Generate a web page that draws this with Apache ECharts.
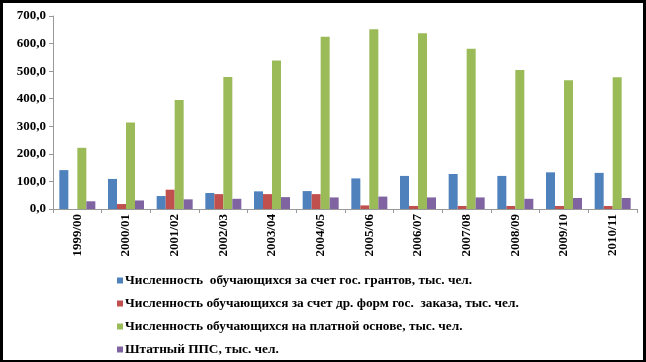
<!DOCTYPE html>
<html><head><meta charset="utf-8">
<script src="https://cdn.jsdelivr.net/npm/echarts@6/dist/echarts.min.js"></script>
<style>
html,body{margin:0;padding:0;background:#000;}
#c{position:absolute;left:3px;top:3px;width:640px;height:357px;background:#fff;}
</style></head><body>
<div id="c"></div>
<script>
const categories = ['1999/00','2000/01','2001/02','2002/03','2003/04','2004/05','2005/06','2006/07','2007/08','2008/09','2009/10','2010/11'];
const grants = [141,109,47,58,64,65,111,120,127,120,133,131];
const otherOrder = [0,18,70,54,54,54,13,11,11,11,11,11];
const paid = [222,314,395,479,539,625,652,637,581,504,467,478];
const staff = [28,31,35,37,43,42,45,42,42,37,40,40];
const seriesNames = [
 'Численность  обучающихся за счет гос. грантов, тыс. чел.',
 'Численность обучающихся за счет др. форм гос.  заказа, тыс. чел.',
 'Численность обучающихся на платной основе, тыс. чел.',
 'Штатный ППС, тыс. чел.'
];
const colors = ['#4F81BD','#C0504D','#9BBB59','#8064A2'];
const font = 'Liberation Serif';
const chart = echarts.init(document.getElementById('c'));
const mk = (i, d) => ({name: seriesNames[i], type:'bar', data:d, barWidth:9, barGap:'0%',
  itemStyle:{color:colors[i]}});
chart.setOption({
  animation:false,
  grid:{left:50, right:6, top:13, bottom:151},
  xAxis:{type:'category', data:categories,
    axisLine:{lineStyle:{color:'#999'}},
    axisTick:{show:true, length:4, lineStyle:{color:'#999'}},
    axisLabel:{rotate:90, color:'#000', fontFamily:font, fontWeight:'bold', fontSize:13, margin:5, interval:0}},
  yAxis:{type:'value', min:0, max:700, interval:100,
    splitLine:{show:false},
    axisLine:{show:true, lineStyle:{color:'#999'}},
    axisTick:{show:true, length:4, lineStyle:{color:'#999'}},
    axisLabel:{color:'#000', fontFamily:font, fontWeight:'bold', fontSize:13, margin:7,
      formatter:v=>v.toFixed(1).replace('.',',')}},
  legend:{orient:'vertical', left:114, top:270, height:90, padding:0, itemGap:8, itemWidth:6, itemHeight:6, icon:'rect',
    textStyle:{color:'#000', fontFamily:font, fontWeight:'bold', fontSize:13.3, padding:[0,0,0,-3], lineHeight:15},
    data:seriesNames},
  series:[mk(0,grants), mk(1,otherOrder), mk(2,paid), mk(3,staff)]
});
</script></body></html>
